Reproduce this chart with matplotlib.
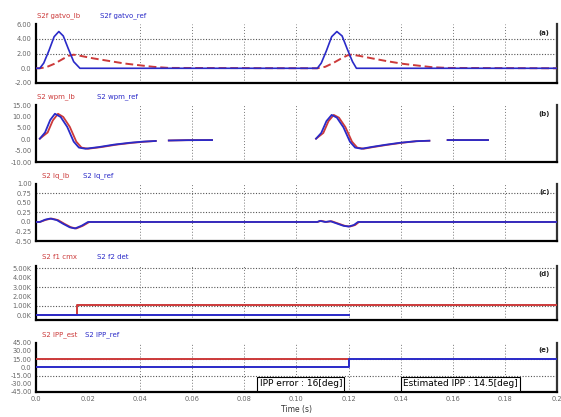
import numpy as np
import matplotlib.pyplot as plt

nan = np.nan

# (a) gate pulse
a_t_lb = [0, 0.0015, 0.004, 0.007, 0.010, 0.0125, 0.0145, 0.017, 0.022, 0.028, 0.034, 0.040, 0.045, 0.051,
          0.108, 0.111, 0.114, 0.117, 0.1195, 0.121, 0.124, 0.129, 0.135, 0.141, 0.147, 0.152, 0.158, 0.2]
a_v_lb = [0, 0, 0.15, 0.6, 1.2, 1.7, 1.85, 1.7, 1.35, 1.0, 0.65, 0.4, 0.2, 0.05,
          0, 0.2, 0.7, 1.3, 1.75, 1.85, 1.7, 1.35, 0.95, 0.6, 0.35, 0.15, 0.05, 0]
a_t_ref = [0, 0.0015, 0.003, 0.005, 0.007, 0.0088, 0.0105, 0.0125, 0.0145, 0.0169,
           0.108, 0.1095, 0.1115, 0.1135, 0.1155, 0.1175, 0.1195, 0.1215, 0.123, 0.2]
a_v_ref = [0, 0, 0.7, 2.4, 4.3, 5.0, 4.4, 2.6, 0.9, 0,
           0, 0.7, 2.4, 4.3, 5.0, 4.4, 2.6, 0.9, 0, 0]

# (b)
b_t_ref = [0.0015, 0.0035, 0.0055, 0.0073, 0.0095, 0.012, 0.0145, 0.0165, 0.019, 0.024, 0.030, 0.036, 0.041, 0.046,
           nan, 0.051, 0.058, 0.0676, nan,
           0.1075, 0.1095, 0.1115, 0.1135, 0.1155, 0.118, 0.1205, 0.1225, 0.125, 0.129, 0.134, 0.1397, 0.146, 0.151,
           nan, 0.158, 0.1735]
b_v_ref = [0.3, 3.0, 8.5, 11.2, 9.8, 5.5, -1.0, -3.6, -4.1, -3.4, -2.3, -1.5, -1.0, -0.7,
           nan, -0.5, -0.35, -0.3, nan,
           0.3, 2.8, 8.0, 10.7, 9.5, 5.3, -1.0, -3.6, -4.1, -3.3, -2.4, -1.5, -0.8, -0.6,
           nan, -0.3, -0.3]
b_t_lb = [0.0015, 0.0045, 0.0065, 0.0085, 0.0105, 0.013, 0.0155, 0.0175, 0.020, 0.025, 0.031, 0.037, 0.042, 0.046,
          nan, 0.051, 0.058, 0.0676, nan,
          0.1075, 0.1103, 0.1123, 0.1143, 0.1163, 0.1188, 0.1213, 0.1233, 0.1258, 0.1298, 0.1348, 0.1405, 0.146, 0.151,
          nan, 0.158, 0.1735]
b_v_lb = [0.3, 3.0, 8.3, 11.2, 9.8, 5.5, -1.0, -3.6, -4.1, -3.4, -2.3, -1.5, -1.0, -0.7,
          nan, -0.5, -0.35, -0.3, nan,
          0.3, 2.8, 8.0, 10.7, 9.5, 5.3, -1.0, -3.6, -4.1, -3.3, -2.4, -1.5, -0.8, -0.6,
          nan, -0.3, -0.3]

# (c)
c_t_ref = [0, 0.0015, 0.0035, 0.0055, 0.008, 0.0105, 0.013, 0.015, 0.0175, 0.020,
           0.108, 0.109, 0.111, 0.113, 0.1155, 0.118, 0.120, 0.122, 0.1236, 0.2]
c_v_ref = [0, 0, 0.06, 0.09, 0.05, -0.05, -0.14, -0.17, -0.1, 0,
           0, 0.03, 0.0, 0.02, -0.04, -0.1, -0.12, -0.08, 0, 0]
c_t_lb = [0, 0.0015, 0.0040, 0.0060, 0.0085, 0.0110, 0.0135, 0.0155, 0.0180, 0.0205,
          0.108, 0.1095, 0.1115, 0.1135, 0.116, 0.1185, 0.1205, 0.1225, 0.124, 0.2]
c_v_lb = c_v_ref

# (d)  values in K
d_t_lb = [0, 0.0157, 0.0157, 0.2]
d_v_lb = [0, 0, 1.05, 1.05]
d_t_ref = [0, 0.12]
d_v_ref = [0, 0]

# (e)
e_t_lb = [0, 0.12]
e_v_lb = [15, 15]
e_t_ref = [0, 0.12, 0.12, 0.2]
e_v_ref = [0, 0, 14.5, 14.5]

x_ticks = [0, 0.02, 0.04, 0.06, 0.08, 0.10, 0.12, 0.14, 0.16, 0.18, 0.2]
x_labels = ["0.0", "0.02", "0.04", "0.06", "0.08", "0.10", "0.12", "0.14", "0.16", "0.18", "0.2"]
x_grid = [0.04, 0.06, 0.08, 0.10, 0.12, 0.14, 0.16, 0.18]

RED = "#cc3a3a"
BLUE = "#2a2ac8"
GREY = "#666666"

fig = plt.figure(figsize=(5.61, 4.17), dpi=100)

panels = [
    dict(rect=[0.064, 0.801, 0.929, 0.141], ylim=(-2, 6), yt=[-2, 0, 2, 4, 6],
         yl=["-2.00", "0.0", "2.00", "4.00", "6.00"], hg=[2, 4], tag="(a)",
         names=("S2f gatvo_lb", "S2f gatvo_ref"), lx=(0.066, 0.178)),
    dict(rect=[0.064, 0.611, 0.929, 0.137], ylim=(-10, 15), yt=[-10, -5, 0, 5, 10, 15],
         yl=["-10.00", "-5.00", "0.0", "5.00", "10.00", "15.00"], hg=[], tag="(b)",
         names=("S2 wpm_lb", "S2 wpm_ref"), lx=(0.066, 0.173)),
    dict(rect=[0.064, 0.422, 0.929, 0.137], ylim=(-0.5, 1.0), yt=[-0.5, -0.25, 0, 0.25, 0.5, 0.75, 1.0],
         yl=["-0.50", "-0.25", "0.0", "0.25", "0.50", "0.75", "1.00"], hg=[0.25, 0.75], tag="(c)",
         names=("S2 Iq_lb", "S2 Iq_ref"), lx=(0.074, 0.148)),
    dict(rect=[0.064, 0.233, 0.929, 0.130], ylim=(-0.5, 5.3), yt=[0, 1, 2, 3, 4, 5],
         yl=["0.0K", "1.00K", "2.00K", "3.00K", "4.00K", "5.00K"], hg=[1, 3, 5], tag="(d)",
         names=("S2 f1 cmx", "S2 f2 det"), lx=(0.074, 0.173)),
    dict(rect=[0.064, 0.060, 0.929, 0.118], ylim=(-45, 45), yt=[-45, -30, -15, 0, 15, 30, 45],
         yl=["-45.00", "-30.00", "-15.00", "0.0", "15.00", "30.00", "45.00"], hg=[-15, 15], tag="(e)",
         names=("S2 IPP_est", "S2 IPP_ref"), lx=(0.074, 0.152)),
]

series = [
    (a_t_lb, a_v_lb, a_t_ref, a_v_ref),
    (b_t_lb, b_v_lb, b_t_ref, b_v_ref),
    (c_t_lb, c_v_lb, c_t_ref, c_v_ref),
    (d_t_lb, d_v_lb, d_t_ref, d_v_ref),
    (e_t_lb, e_v_lb, e_t_ref, e_v_ref),
]

axes = []
for i, (p, s) in enumerate(zip(panels, series)):
    ax = fig.add_axes(p["rect"])
    axes.append(ax)
    tl, vl, tr, vr = s
    if i == 0:
        ax.plot(tl, vl, color=RED, lw=1.4, ls=(0, (4, 2)), zorder=3)
        ax.plot(tr, vr, color=BLUE, lw=1.2, zorder=4)
    elif i in (3, 4):
        ax.plot(tl, vl, color=RED, lw=1.4, zorder=3)
        ax.plot(tr, vr, color=BLUE, lw=1.4, zorder=4)
    else:
        ax.plot(tl, vl, color=RED, lw=1.3, zorder=3)
        ax.plot(tr, vr, color=BLUE, lw=1.3, zorder=4)

    for xg in x_grid:
        ax.axvline(xg, color="#777777", lw=0.7, ls=(0, (1, 2)), zorder=1)
    for yg in p["hg"]:
        ax.axhline(yg, color="#555555", lw=0.8, ls=(0, (1, 1.5)), zorder=1)

    ax.set_xlim(0, 0.2)
    ax.set_ylim(*p["ylim"])
    ax.set_yticks(p["yt"])
    ax.set_yticklabels(p["yl"], fontsize=4.8, color=GREY)
    ax.set_xticks(x_ticks)
    if i == 4:
        ax.set_xticklabels(x_labels, fontsize=4.8, color=GREY)
    else:
        ax.set_xticklabels([])
    ax.tick_params(length=0, pad=3)

    ax.spines["top"].set_visible(False)
    ax.spines["left"].set_linewidth(1.6)
    ax.spines["right"].set_linewidth(1.6)
    ax.spines["right"].set_color("#333333")
    ax.spines["bottom"].set_linewidth(1.6)
    ax.spines["bottom"].set_linestyle((0, (2, 1)))

    ax.text(0.985, 0.85, p["tag"], transform=ax.transAxes, ha="right", va="center",
            fontsize=5, fontweight="bold", color="#222222")

    top = p["rect"][1] + p["rect"][3] + 0.02
    fig.text(p["lx"][0], top, p["names"][0], color=RED, fontsize=5, va="center")
    fig.text(p["lx"][1], top, p["names"][1], color=BLUE, fontsize=5, va="center")

ax = axes[4]
box = dict(boxstyle="square,pad=0.25", fc="white", ec="black", lw=0.8)
ax.text(0.1017, -30, "IPP error : 16[deg]", ha="center", va="center", fontsize=6.5, bbox=box, zorder=5)
ax.text(0.163, -30, "Estimated IPP : 14.5[deg]", ha="center", va="center", fontsize=6.5, bbox=box, zorder=5)
ax.set_xlabel("Time (s)", fontsize=5.5, color="#333333", labelpad=2)

fig.savefig("out.png", dpi=100)
